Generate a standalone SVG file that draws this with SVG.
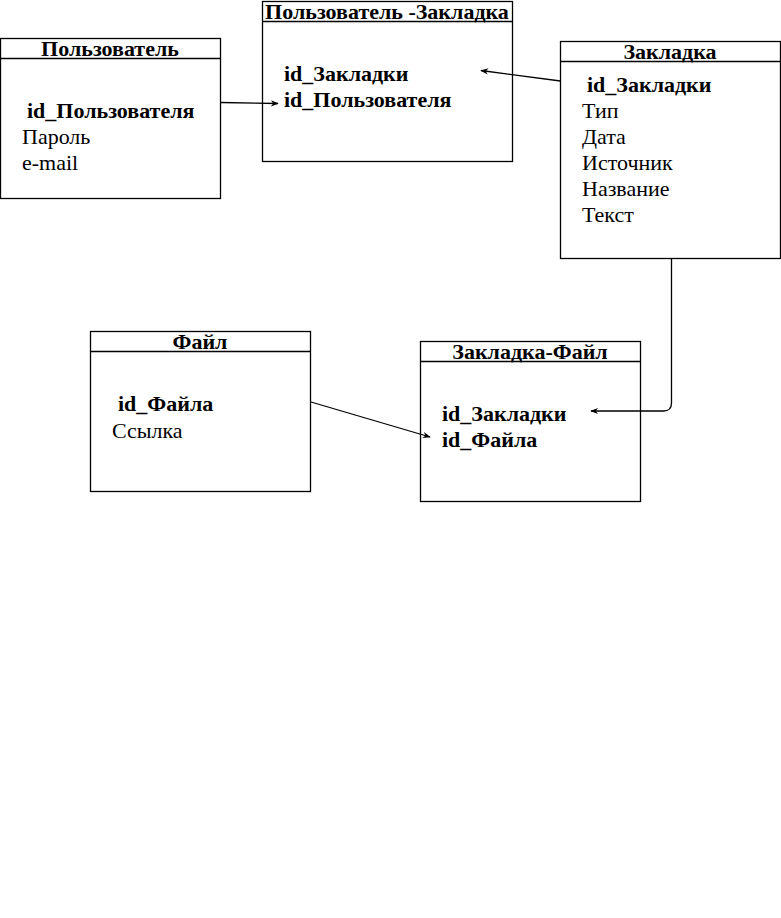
<svg xmlns="http://www.w3.org/2000/svg" width="781" height="918" viewBox="0 0 781 918">
<defs>
<style>
.box{fill:#fff;stroke:#000;stroke-width:1.3}
.hl{stroke:#000;stroke-width:1.3}
.title{text-anchor:middle}
.c{fill:none;stroke:#000;stroke-width:1.3;marker-end:url(#ar)}
</style>
<marker id="ar" viewBox="0 0 10 10" refX="9" refY="5" markerWidth="8" markerHeight="8" markerUnits="userSpaceOnUse" orient="auto">
<path d="M0,1 L10,5 L0,9 L3,5 Z" fill="#000"/>
</marker>
</defs>
<rect width="781" height="918" fill="#fff"/>
<g font-family="'Liberation Serif', 'Times New Roman', serif" font-size="22" fill="#000">
<g id="polzovatel">
<rect class="box" x="0.5" y="38.5" width="220" height="160"/>
<line class="hl" x1="0.5" y1="58.5" x2="220.5" y2="58.5"/>
<text class="title" font-weight="bold" x="110" y="56">Пользователь</text>
<text font-weight="bold" x="27" y="118">id_Пользователя</text>
<text x="22" y="144">Пароль</text>
<text x="22" y="170">e-mail</text>
</g>
<g id="polzovatel-zakladka">
<rect class="box" x="262.5" y="1.5" width="250" height="160"/>
<line class="hl" x1="262.5" y1="21.5" x2="512.5" y2="21.5"/>
<text class="title" font-weight="bold" x="387" y="19">Пользователь -Закладка</text>
<text font-weight="bold" x="284" y="81">id_Закладки</text>
<text font-weight="bold" x="284" y="107">id_Пользователя</text>
</g>
<g id="zakladka">
<rect class="box" x="560.5" y="41.5" width="220" height="217"/>
<line class="hl" x1="560.5" y1="61.5" x2="780.5" y2="61.5"/>
<text class="title" font-weight="bold" x="670" y="59">Закладка</text>
<text font-weight="bold" x="587" y="92">id_Закладки</text>
<text x="582" y="118">Тип</text>
<text x="582" y="144">Дата</text>
<text x="582" y="170">Источник</text>
<text x="582" y="196">Название</text>
<text x="582" y="222">Текст</text>
</g>
<g id="fail">
<rect class="box" x="90.5" y="331.5" width="220" height="160"/>
<line class="hl" x1="90.5" y1="351.5" x2="310.5" y2="351.5"/>
<text class="title" font-weight="bold" x="200" y="349">Файл</text>
<text font-weight="bold" x="118" y="411">id_Файла</text>
<text x="112" y="438">Ссылка</text>
</g>
<g id="zakladka-fail">
<rect class="box" x="420.5" y="341.5" width="220" height="160"/>
<line class="hl" x1="420.5" y1="361.5" x2="640.5" y2="361.5"/>
<text class="title" font-weight="bold" x="530" y="359">Закладка-Файл</text>
<text font-weight="bold" x="442" y="421">id_Закладки</text>
<text font-weight="bold" x="442" y="447">id_Файла</text>
</g>
</g>
<g id="connectors">
<path class="c" d="M220.5,102.5 L278,103.5"/>
<path class="c" d="M560.5,81 L481,70.5"/>
<path class="c" d="M671.5,258.5 V403 Q671.5,411 663.5,411 H591"/>
<path class="c" d="M311,402 L430,437"/>
</g>
</svg>
